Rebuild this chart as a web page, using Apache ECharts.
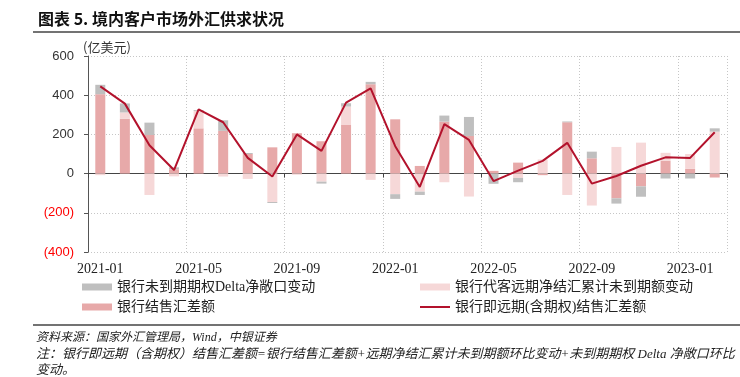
<!DOCTYPE html>
<html>
<head>
<meta charset="utf-8">
<script src="https://cdn.jsdelivr.net/npm/echarts@6/dist/echarts.min.js"></script>
<style>
html,body{margin:0;padding:0;background:#fff;}
#chart{width:740px;height:377px;}
</style>
</head>
<body>
<div id="chart"></div>
<script>
var months = ['2021-01','2021-02','2021-03','2021-04','2021-05','2021-06','2021-07','2021-08','2021-09','2021-10','2021-11','2021-12',
  '2022-01','2022-02','2022-03','2022-04','2022-05','2022-06','2022-07','2022-08','2022-09','2022-10','2022-11','2022-12',
  '2023-01','2023-02'];
// 银行结售汇差额
var spotBalance = [405,280,197,22,231,218,100,134,206,165,248,456,277,39,265,192,14,56,-8,262,78,-126,-65,66,24,-20];
// 银行代客远期净结汇累计未到期额变动
var forwardChange = [-8,32,-109,-14,88,-15,-27,-145,-6,-41,94,-32,-105,-92,-44,-117,0,-22,72,-109,-163,136,158,40,76,214];
// 银行未到期期权Delta净敞口变动
var deltaChange = [48,46,63,10,5,54,5,-5,0,-10,17,12,-24,-17,31,97,-52,-22,0,4,34,-27,-53,-25,-25,17];
// 银行即远期(含期权)结售汇差额
var totalBalance = [445,357,145,18,328,262,80,-15,200,116,362,435,140,-68,252,172,-38,15,65,157,-51,-12,40,83,80,211];
var yTicks = {min:-400, max:600, interval:200};

var names = ['银行未到期期权Delta净敞口变动','银行代客远期净结汇累计未到期额变动','银行结售汇差额','银行即远期(含期权)结售汇差额'];

var mixFont = '"Liberation Serif", "Noto Sans CJK SC"';
var chart = echarts.init(document.getElementById('chart'), null, {renderer:'canvas'});
var dotted = {type:[1,2], color:'#c6c6c6', width:1};
function legendOf(name, left, top, w, h, extra){
  var l = {data:[name], left:left, top:top, itemWidth:w, itemHeight:h, padding:0, icon:'rect',
    textStyle:{fontFamily:mixFont, fontSize:14, color:'#222'}};
  if (extra) { for (var k in extra) l[k] = extra[k]; }
  return l;
}
chart.setOption({
  animation:false,
  backgroundColor:'#fff',
  grid:{left:88, right:13, top:56, bottom:125, containLabel:false},
  legend:[
    legendOf(names[0], 82, 280, 30, 7),
    legendOf(names[1], 420, 280, 30, 7),
    legendOf(names[2], 82, 300, 30, 7),
    legendOf(names[3], 420, 300, 30, 2, {itemStyle:{color:'#B3122C'}})
  ],
  xAxis:[{
    type:'category', data:months, position:'bottom',
    axisLine:{show:false, onZero:false},
    axisTick:{show:false},
    axisLabel:{interval:3, margin:10, fontFamily:'"Liberation Serif"', fontSize:14, color:'#222'},
    splitLine:{show:true, interval:3, lineStyle:dotted}
  },{
    type:'category', data:months, position:'bottom',
    axisLine:{show:true, onZero:true, lineStyle:{color:'#444', width:1}},
    axisTick:{show:true, interval:3, length:4, lineStyle:{color:'#444'}},
    axisLabel:{show:false},
    splitLine:{show:false}
  }],
  yAxis:{
    type:'value', min:yTicks.min, max:yTicks.max, interval:yTicks.interval,
    axisLine:{show:true, lineStyle:{color:'#555', width:1}},
    axisTick:{show:true, length:4, lineStyle:{color:'#555'}},
    axisLabel:{margin:14, fontFamily:'"Liberation Sans"', fontSize:13,
      formatter:function(v){ return v < 0 ? '(' + (-v) + ')' : String(v); },
      color:function(v){ return Number(v) < 0 ? '#FF0000' : '#333'; }},
    splitLine:{show:true, lineStyle:dotted}
  },
  series:[
    {name:names[2], type:'bar', stack:'s', data:spotBalance, barWidth:10, itemStyle:{color:'#E7A9A9'}},
    {name:names[1], type:'bar', stack:'s', data:forwardChange, barWidth:10, itemStyle:{color:'#F6D8D8'}},
    {name:names[0], type:'bar', stack:'s', data:deltaChange, barWidth:10, itemStyle:{color:'#BFBFBF'}},
    {name:names[3], type:'line', data:totalBalance, symbol:'none', lineStyle:{color:'#B3122C', width:2}, itemStyle:{color:'#B3122C'}, z:5}
  ],
  graphic:[
    {type:'text', x:38, y:19, style:{text:'图表 5. 境内客户市场外汇供求状况', fill:'#111', font:'bold 16px "Noto Sans CJK SC"', verticalAlign:'middle'}},
    {type:'line', shape:{x1:33, y1:32, x2:740, y2:32}, style:{stroke:'#444', lineWidth:1.5}},
    {type:'text', x:83, y:47, style:{text:'(亿美元)', fill:'#333', font:'13px "Noto Sans CJK SC"', verticalAlign:'middle'}},
    {type:'line', shape:{x1:33, y1:325, x2:740, y2:325}, style:{stroke:'#444', lineWidth:1.5}},
    {type:'text', x:36, y:338, style:{text:'资料来源：国家外汇管理局，Wind，中银证券', fill:'#222', font:'italic 12px "Liberation Serif", "Noto Sans CJK SC"', verticalAlign:'middle'}},
    {type:'text', x:36, y:355, style:{text:'注：银行即远期（含期权）结售汇差额=银行结售汇差额+远期净结汇累计未到期额环比变动+未到期期权 Delta 净敞口环比', fill:'#222', font:'italic 13px "Liberation Serif", "Noto Sans CJK SC"', verticalAlign:'middle'}},
    {type:'text', x:36, y:371, style:{text:'变动。', fill:'#222', font:'italic 13px "Liberation Serif", "Noto Sans CJK SC"', verticalAlign:'middle'}}
  ]
});
</script>
</body>
</html>
